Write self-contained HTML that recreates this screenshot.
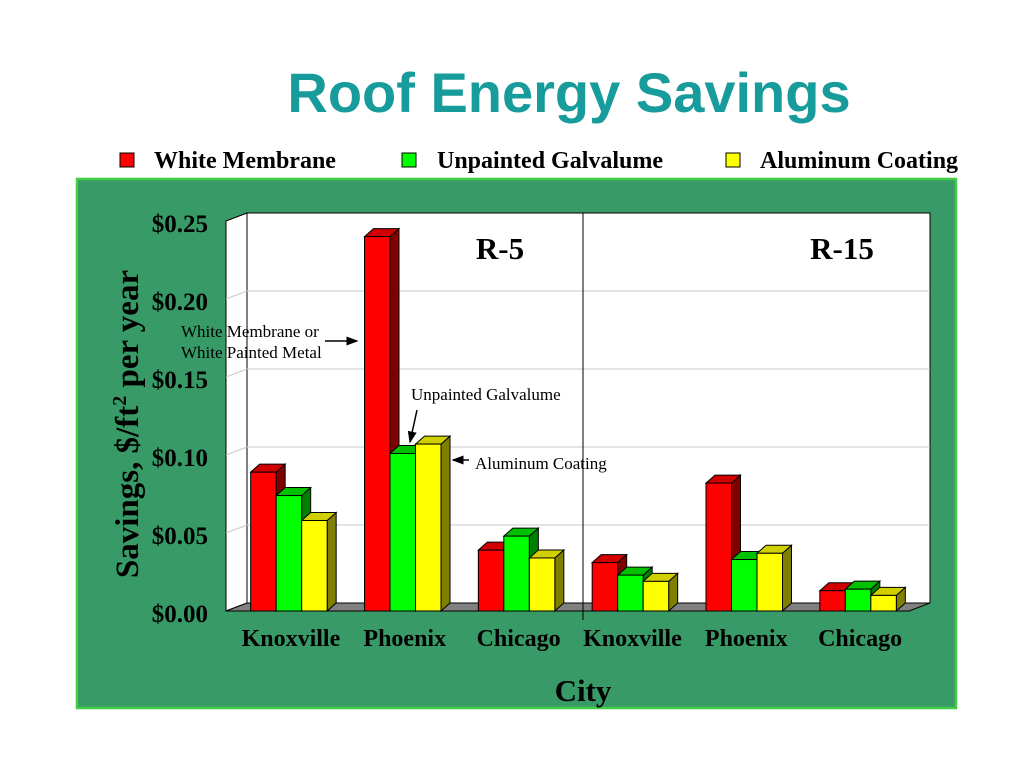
<!DOCTYPE html>
<html><head><meta charset="utf-8"><style>
html,body{margin:0;padding:0;background:#fff;width:1024px;height:768px;overflow:hidden}
svg{display:block;font-family:"Liberation Serif",serif}
</style></head><body>
<svg id="chart" width="1024" height="768" viewBox="0 0 1024 768">
<text x="569" y="112" text-anchor="middle" font-family="Liberation Sans, sans-serif" font-weight="bold" font-size="56" fill="#179b9b">Roof Energy Savings</text>
<g>
 <g><rect x="120" y="153" width="14" height="14" fill="#ff0000" stroke="#000"/><text x="154" y="168" font-size="24" font-weight="bold">White Membrane</text></g>
 <g><rect x="402" y="153" width="14" height="14" fill="#00ff00" stroke="#000"/><text x="437" y="168" font-size="24" font-weight="bold">Unpainted Galvalume</text></g>
 <g><rect x="726" y="153" width="14" height="14" fill="#ffff00" stroke="#000"/><text x="760" y="168" font-size="24" font-weight="bold">Aluminum Coating</text></g>
</g>
<rect x="77" y="179" width="879" height="529" fill="#389a66" stroke="#44cc44" stroke-width="2.5"/>
<g id="plot"></g>
<text transform="translate(138,424) rotate(-90)" text-anchor="middle" font-size="33" font-weight="bold">Savings, $/ft<tspan font-size="20" dy="-12">2</tspan><tspan dy="12"> per year</tspan></text>
<text x="583" y="701" text-anchor="middle" font-size="31" font-weight="bold">City</text>
</svg>
<script>
const categories=["Knoxville","Phoenix","Chicago","Knoxville","Phoenix","Chicago"];
const whiteMembrane=[0.089,0.240,0.039,0.031,0.082,0.013];
const galvalume=[0.074,0.101,0.048,0.023,0.033,0.014];
const aluminum=[0.058,0.107,0.034,0.019,0.037,0.010];
const yTicks=[0,0.05,0.10,0.15,0.20,0.25];
const yTickLabels=["$0.00","$0.05","$0.10","$0.15","$0.20","$0.25"];
const panelLabels=["R-5","R-15"];

const NS="http://www.w3.org/2000/svg";
const g=document.getElementById('plot');
const X0=247,X1=930,DX=-21,DY=8,backZero=603,scale=1560;
const yBack=v=>backZero-v*scale;
const yFront=v=>backZero+DY-v*scale;
const catW=(X1-X0)/categories.length;
const catCenter=i=>X0-17+catW*(i+0.5)+4;
function el(tag,attrs){const e=document.createElementNS(NS,tag);for(const k in attrs)e.setAttribute(k,attrs[k]);g.appendChild(e);return e;}

let e;
e=el('rect',{x:X0,y:yBack(0.25),width:X1-X0,height:backZero-yBack(0.25),fill:'#fff',stroke:'#000','stroke-width':1});


e=el('polygon',{points:`${X0},${yBack(0.25)} ${X0+DX},${yBack(0.25)+DY} ${X0+DX},${backZero+DY} ${X0},${backZero}`,fill:'#fff',stroke:'#000','stroke-width':1});


e=el('polygon',{points:`${X0},${backZero} ${X1},${backZero} ${X1+DX},${backZero+DY} ${X0+DX},${backZero+DY}`,fill:'#808080',stroke:'#000','stroke-width':1});



yTicks.forEach((v,i)=>{
 if(v>0&&v<0.25){
  e=el('polyline',{points:`${X0+DX},${yBack(v)+DY} ${X0},${yBack(v)} ${X1},${yBack(v)}`,fill:'none',stroke:'#c8c8c8','stroke-width':1});
  
  
 }
 e=el('text',{x:208,y:yBack(v)+DY+11,'text-anchor':'end','font-size':25,'font-weight':'bold'});
 e.textContent=yTickLabels[i];
 
 
});

e=el('line',{x1:583,y1:yBack(0.25),x2:583,y2:backZero+17,stroke:'#000','stroke-width':1});



panelLabels.forEach((t,i)=>{
 e=el('text',{x:[500,842][i],y:259,'text-anchor':'middle','font-size':31,'font-weight':'bold'});
 e.textContent=t;
 
 
});

const series=[[whiteMembrane,'#ff0000','#d00000','#800000'],[galvalume,'#00ff00','#00c000','#008000'],[aluminum,'#ffff00','#d0d000','#808000']];
const bw=25.5,dep=9,dh=8;
categories.forEach((c,i)=>{
 const start=catCenter(i)-bw*1.5-2;
 series.forEach((s,j)=>{
  const v=s[0][i];
  const x=start+j*bw, yt=yFront(v), yb=yFront(0);
  const grp=document.createElementNS(NS,'g');g.appendChild(grp);
  
  
  const add=(tag,a)=>{const r=document.createElementNS(NS,tag);for(const k in a)r.setAttribute(k,a[k]);grp.appendChild(r);};
  add('polygon',{points:`${x+bw},${yt} ${x+bw+dep},${yt-dh} ${x+bw+dep},${yb-dh} ${x+bw},${yb}`,fill:s[3],stroke:'#000','stroke-width':1});
  add('polygon',{points:`${x},${yt} ${x+dep},${yt-dh} ${x+bw+dep},${yt-dh} ${x+bw},${yt}`,fill:s[2],stroke:'#000','stroke-width':1});
  add('rect',{x:x,y:yt,width:bw,height:yb-yt,fill:s[1],stroke:'#000','stroke-width':1});
 });
 e=el('text',{x:catCenter(i),y:646,'text-anchor':'middle','font-size':24,'font-weight':'bold'});
 e.textContent=c;
 
 
});

const ann=document.createElementNS(NS,'g');g.appendChild(ann);


ann.innerHTML=`<defs><marker id="ah" markerWidth="8" markerHeight="6" refX="7" refY="3" orient="auto"><path d="M0,0 L8,3 L0,6 z" fill="#000"/></marker></defs>
<text x="181" y="337" font-size="17">White Membrane or</text>
<text x="181" y="358" font-size="17">White Painted Metal</text>
<line x1="325" y1="341" x2="357" y2="341" stroke="#000" stroke-width="1.5" marker-end="url(#ah)"/>
<text x="411" y="400" font-size="17">Unpainted Galvalume</text>
<line x1="417" y1="410" x2="410" y2="442" stroke="#000" stroke-width="1.5" marker-end="url(#ah)"/>
<line x1="469" y1="460" x2="453" y2="460" stroke="#000" stroke-width="1.5" marker-end="url(#ah)"/>
<text x="475" y="469" font-size="17">Aluminum Coating</text>`;
</script>
</body></html>
